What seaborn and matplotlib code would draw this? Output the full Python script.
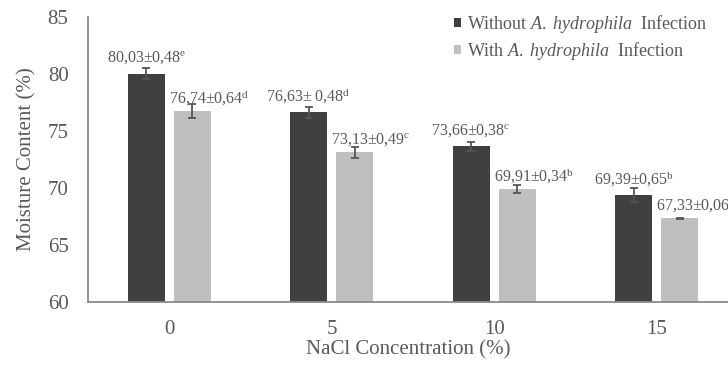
import matplotlib
matplotlib.use("Agg")
import matplotlib.pyplot as plt
from matplotlib.patches import Patch
import seaborn as sns
import pandas as pd

# NaCl concentrations (%) and the two treatment groups
concentrations = ["0", "5", "10", "15"]
groups = ["Without", "With"]

# Mean moisture content (%) and standard deviations
moisture_without = [80.03, 76.63, 73.66, 69.39]
sd_without = [0.48, 0.48, 0.38, 0.65]
moisture_with = [76.74, 73.13, 69.91, 67.33]
sd_with = [0.64, 0.49, 0.34, 0.06]

# Significance letters (Duncan)
letters_without = ["e", "d", "c", "b"]
letters_with = ["d", "c", "b", "a"]
sep_without = ["±", "± ", "±", "±"]
sep_with = ["±", "±", "±", "±"]

legend_labels = [
    r"Without $\mathit{A.\ hydrophila}$  Infection",
    r"With $\mathit{A.\ hydrophila}$  Infection",
]
yticks = [60, 65, 70, 75, 80, 85]

sns.set_theme(style="white")
plt.rcParams["font.family"] = ["Liberation Serif", "DejaVu Serif"]
plt.rcParams["mathtext.fontset"] = "custom"
plt.rcParams["mathtext.rm"] = "Liberation Serif"
plt.rcParams["mathtext.it"] = "Liberation Serif:italic"
plt.rcParams["mathtext.bf"] = "Liberation Serif:bold"

TEXT = "#595959"
SPINE = "#8a8a8a"
DARK = "#404040"
LIGHT = "#bfbfbf"

df = pd.DataFrame({
    "conc": concentrations * 2,
    "group": [groups[0]] * 4 + [groups[1]] * 4,
    "moisture": moisture_without + moisture_with,
})

fig = plt.figure(figsize=(7.28, 3.67), dpi=100)
ax = fig.add_axes([88 / 728, 65 / 367, 1 - 88 / 728, 285 / 367])

sns.barplot(
    data=df, x="conc", y="moisture", hue="group",
    order=concentrations, hue_order=groups,
    palette=[DARK, LIGHT], width=0.566, gap=0.195,
    errorbar=None, legend=False, linewidth=0, ax=ax,
)

ax.set_ylim(60, 85)
ax.set_xlim(-0.5, 3.44)
ax.set_yticks(yticks)

series = [
    (moisture_without, sd_without, letters_without, sep_without),
    (moisture_with, sd_with, letters_with, sep_with),
]

for k, (container, (means, sds, letters, seps)) in enumerate(zip(ax.containers, series)):
    bars = list(container)
    centers = [b.get_x() + b.get_width() / 2 for b in bars]
    ax.errorbar(centers, means, yerr=sds, fmt="none", ecolor="#555555",
                elinewidth=1.3, capsize=3.2, capthick=1.3, zorder=3)
    for b, m, s, let, sp in zip(bars, means, sds, letters, seps):
        label = (f"{m:.2f}".replace(".", ",") + sp + f"{s:.2f}".replace(".", ",")
                 + r"$^{\mathrm{" + let + "}}$")
        if k == 0:
            ax.annotate(label, xy=(b.get_x() + b.get_width() / 2, m),
                        xytext=(0, 16), textcoords="offset pixels",
                        ha="center", va="center", fontsize=11.5, color=TEXT,
                        annotation_clip=False)
        else:
            ax.annotate(label, xy=(b.get_x(), m),
                        xytext=(-5, 13), textcoords="offset pixels",
                        ha="left", va="center", fontsize=11.5, color=TEXT,
                        annotation_clip=False)

for side in ["top", "right"]:
    ax.spines[side].set_visible(False)
for side in ["left", "bottom"]:
    ax.spines[side].set_color(SPINE)
    ax.spines[side].set_linewidth(1.3)

ax.tick_params(axis="both", length=0, labelsize=15, colors=TEXT)
ax.tick_params(axis="y", pad=14)
ax.tick_params(axis="x", pad=13)
ax.set_xlabel("NaCl Concentration (%)", fontsize=15, color=TEXT, labelpad=1)
ax.set_ylabel("Moisture Content (%)", fontsize=15, color=TEXT, labelpad=8)

handles = [Patch(facecolor=DARK, edgecolor="none"), Patch(facecolor=LIGHT, edgecolor="none")]
fig.legend(handles, legend_labels, loc="upper left",
           bbox_to_anchor=(454 / 728, 1 - 13 / 367), frameon=False,
           fontsize=13, handlelength=0.4, handleheight=0.4,
           handletextpad=0.3, labelspacing=0.25, borderpad=0,
           borderaxespad=0, labelcolor=TEXT)

fig.savefig("out.png", dpi=100, facecolor="white")
